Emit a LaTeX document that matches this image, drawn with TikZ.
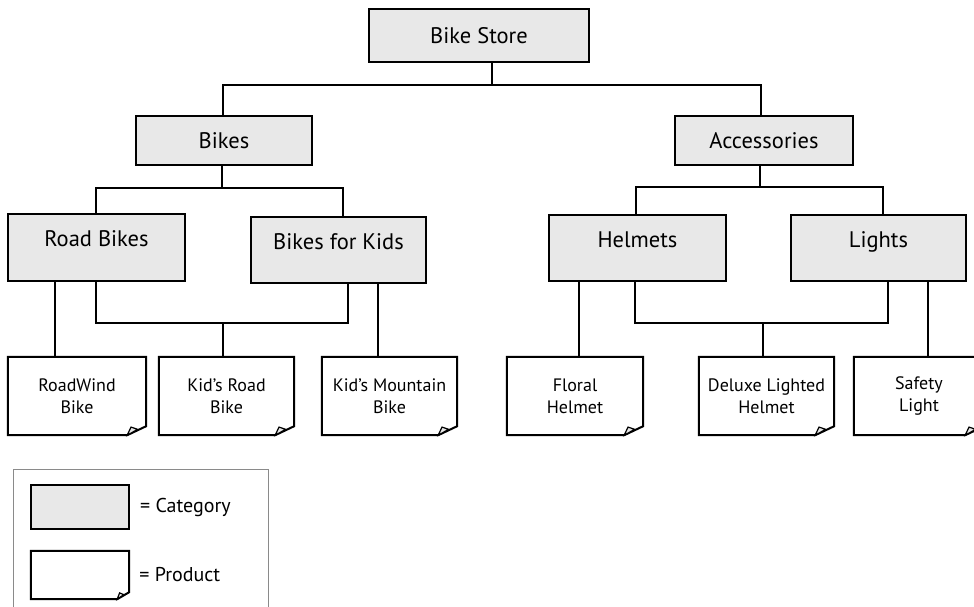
\documentclass[tikz,border=0pt]{standalone}
\usepackage{fontspec}
\setmainfont{PT Sans}
\definecolor{catfill}{HTML}{E8E8E8}
\definecolor{framegray}{HTML}{8A8A8A}

% outline of a product sheet with a folded lower right corner
\newcommand\prodframe[3]{%
  \draw[boxline] (#1.south west) -- (#1.north west) -- (#1.north east)
    -- ([yshift=#3]#1.south east) -- ([xshift=-#2]#1.south east) -- cycle;
  \filldraw[boxline, fill=catfill, line width=1.2pt] ([xshift=-#2]#1.south east)
    -- ++(0.2*#2, 0.9*#3) -- ++(0.35*#2, -0.25*#3) -- cycle;
}

\begin{document}
\begin{tikzpicture}[x=1pt, y=-1pt,
  boxline/.style={line width=2pt, line join=miter},
  conn/.style={line width=1.8pt},
  catbox/.style={draw, boxline, fill=catfill, inner sep=0pt,
    font=\fontsize{22.5}{26}\selectfont},
  cattall/.style={catbox, text height=16pt, text depth=18pt},
  prodbox/.style={inner sep=0pt, align=center, minimum width=#1, minimum height=78pt,
    font=\fontsize{18}{22}\selectfont},
  legendtext/.style={anchor=west, inner sep=0pt, font=\fontsize{20}{22}\selectfont},
]
\useasboundingbox (0,0) rectangle (974,607);

% category boxes
\node[catbox, minimum width=220pt, minimum height=53pt] (store) at (479,35.5) {Bike Store};
\node[catbox, minimum width=176pt, minimum height=49pt] (bikes) at (224,140.5) {Bikes};
\node[catbox, minimum width=178pt, minimum height=49pt] (acc) at (764,140.5) {Accessories};
\node[cattall, minimum width=177pt, minimum height=67pt] (road) at (96.5,247.5) {Road Bikes};
\node[cattall, minimum width=175pt, minimum height=66pt] (kids) at (338.5,250) {Bikes for Kids};
\node[cattall, minimum width=177pt, minimum height=66pt] (helm) at (637.5,248) {Helmets};
\node[cattall, minimum width=175pt, minimum height=66pt] (lights) at (878.5,248) {Lights};

% product sheets
\node[prodbox=138pt] (rw) at (77,396) {RoadWind\\Bike};
\node[prodbox=135pt] (kr) at (226.5,396) {Kid's Road\\Bike};
\node[prodbox=135pt] (km) at (389.5,396) {Kid's Mountain\\Bike};
\node[prodbox=136pt] (fh) at (575,396) {Floral\\Helmet};
\node[prodbox=135pt] (dl) at (766.5,396) {Deluxe Lighted\\Helmet};
\node[prodbox=130pt] (sl) at (919,396) {Safety\\Light};
\foreach \n in {rw,kr,km,fh,dl,sl} {\prodframe{\n}{19pt}{9pt}}

% junction points and vertical line positions
\coordinate (j0) at (492,85);
\coordinate (xb) at (223,0);
\coordinate (xa) at (761,0);
\coordinate (j1) at (222,188);
\coordinate (xr2) at (96,0);
\coordinate (xk1) at (343,0);
\coordinate (j2) at (760,187);
\coordinate (xh1) at (636,0);
\coordinate (xl1) at (883,0);
\coordinate (xrw) at (55,0);
\coordinate (xk2) at (348,0);
\coordinate (xkm) at (378,0);
\coordinate (j3) at (223,323);
\coordinate (xfh) at (579,0);
\coordinate (xh2) at (635,0);
\coordinate (xl2) at (888,0);
\coordinate (xsl) at (928,0);
\coordinate (j4) at (763,323);

% store level
\draw[conn] (store.south -| j0) -- (j0);
\draw[conn] (bikes.north -| xb) |- (j0) -| (acc.north -| xa);

% bikes level
\draw[conn] (bikes.south -| j1) -- (j1);
\draw[conn] (road.north -| xr2) |- (j1) -| (kids.north -| xk1);

% accessories level
\draw[conn] (acc.south -| j2) -- (j2);
\draw[conn] (helm.north -| xh1) |- (j2) -| (lights.north -| xl1);

% bike products
\draw[conn] (road.south -| xrw) -- (rw.north -| xrw);
\draw[conn] (road.south -| xr2) |- (j3) -| (kids.south -| xk2);
\draw[conn] (j3) -- (kr.north -| j3);
\draw[conn] (kids.south -| xkm) -- (km.north -| xkm);

% accessory products
\draw[conn] (helm.south -| xfh) -- (fh.north -| xfh);
\draw[conn] (helm.south -| xh2) |- (j4) -| (lights.south -| xl2);
\draw[conn] (j4) -- (dl.north -| j4);
\draw[conn] (lights.south -| xsl) -- (sl.north -| xsl);

% legend
\node[draw=framegray, line width=1pt, minimum width=255pt, minimum height=146pt,
  inner sep=0pt] (legend) at (140.5,542) {};
\node[catbox, minimum width=98pt, minimum height=44pt] (lcat) at (80,507) {};
\node[legendtext] (lcattext) at ([xshift=10pt]lcat.east) {= Category};
\node[inner sep=0pt, minimum width=98pt, minimum height=48pt] (lprod) at (80,575) {};
\prodframe{lprod}{12pt}{7pt}
\node[legendtext] (lprodtext) at ([xshift=10pt]lprod.east) {= Product};
\end{tikzpicture}
\end{document}
